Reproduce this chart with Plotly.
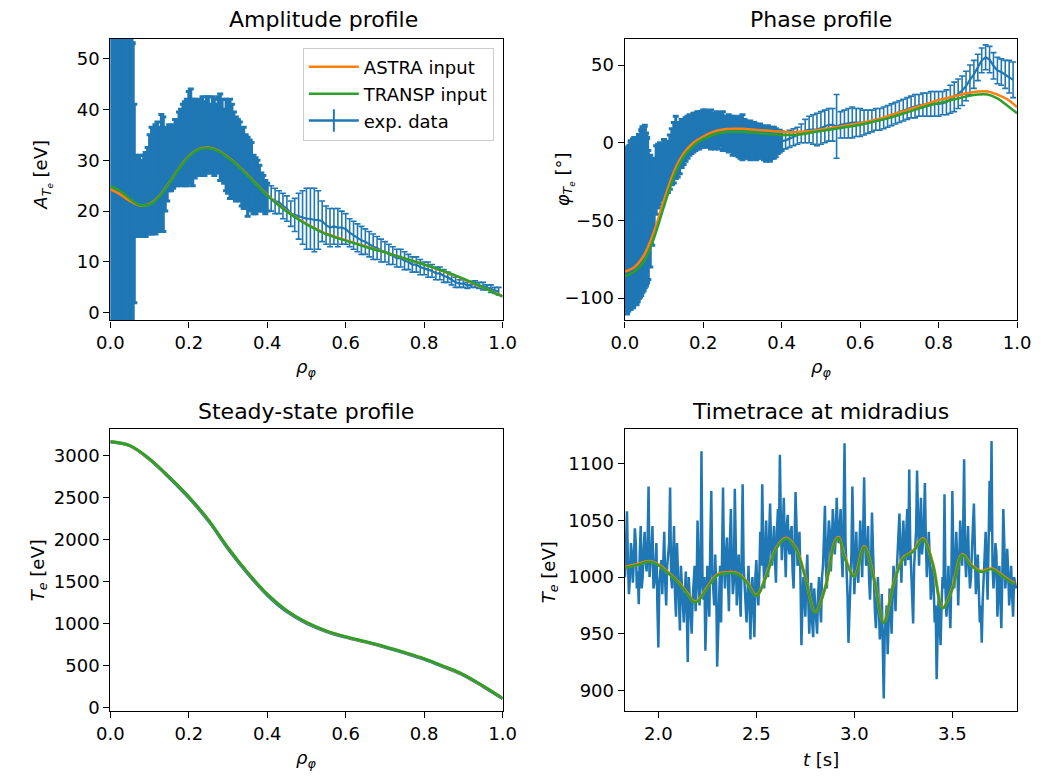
import numpy as np
import plotly.graph_objects as go

FONT = "DejaVu Sans"
BLUE, ORANGE, GREEN = "#1f77b4", "#ff7f0e", "#2ca02c"

amp_rho_core = [round(0.003 * k, 3) for k in range(1, 20)]          # 0.003 .. 0.057
amp_hi_core = [62, 70, 58, 75, 66, 60, 72, 64, 80, 68, 61, 74, 66, 70, 59, 65, 71, 60, 53]
amp_lo_core = [-14, -20, -9, -25, -16, -11, -22, -15, -30, -18, -12, -24, -16, -20, -10, -15, -21, -8, -6]

amp_rho_edge = [0.061]
amp_hi_edge = [41]
amp_lo_edge = [2]

amp_rho_mid = [round(0.065 + 0.005 * k, 3) for k in range(68)]       # 0.065 .. 0.400
amp_hi_mid = [31, 30.5, 31, 30, 31, 31.5, 32.5, 35, 36.5, 36,
              37, 37.5, 36.5, 39, 38.5, 36.5, 36, 37, 36.5, 37,
              38, 37.5, 39.5, 40, 41, 41.5, 42, 43.5, 44, 42,
              42, 41.5, 42, 41.5, 42.5, 41.5, 42.5, 42.5, 41, 42.5,
              42, 41, 42.5, 43, 42, 40, 42, 41.5, 42, 41,
              39.5, 38.5, 38, 37.5, 36, 36.5, 35, 34.5, 34, 33.5,
              31, 30.5, 30, 29, 27.5, 27, 26, 25.5]
amp_lo_mid = [15, 15, 15.5, 15, 15.5, 15, 16, 15.5, 15.5, 16,
              15.5, 16, 16.5, 16, 16, 20, 22, 24, 24, 24.5,
              25, 25, 25.5, 25, 25.5, 25, 25, 26, 25.5, 25,
              26.5, 27, 27.5, 27, 27.5, 27, 28, 27.5, 27.5, 28,
              27, 28, 27.5, 26, 26.5, 25.5, 24, 23.5, 22.5, 22.5,
              23, 22, 22.5, 22, 21, 20.5, 21, 19, 20, 20.5,
              19.5, 19.5, 20, 20.5, 20, 20, 19.5, 20]

amp_rho_out = [round(0.41 + 0.01 * k, 2) for k in range(59)]          # 0.41 .. 0.99
amp_hi_out = [25, 24.5, 24, 23.5, 23, 22, 22.5, 23.5, 24, 24.5,
              24.5, 24.5, 24, 22, 21, 20.5, 20.5, 20.5, 20, 19.5,
              18.5, 18, 17.5, 17, 16.5, 16, 15.5, 15, 14.5, 14,
              13.5, 13, 12.5, 12.5, 12, 11.5, 11, 11, 10.5, 10,
              10, 9.5, 9, 9, 8.5, 8, 7.5, 7, 6.5, 6.5,
              6, 6.2, 6.3, 6, 6, 5.5, 5.5, 5, 5]
amp_lo_out = [20, 19.5, 19.5, 18.5, 18, 17, 16, 14.5, 13.5, 12.5,
              12.5, 12, 12.5, 14, 13.5, 13, 13.5, 13, 13.5, 13.5,
              13, 12.5, 12, 11.5, 11.5, 11, 10.5, 10.5, 10, 10,
              9.5, 9.5, 9, 9, 8.5, 8.5, 8, 8, 7.5, 7.5,
              7, 7, 6.5, 6.5, 6, 6, 5.5, 5, 5, 5,
              4.8, 5, 5, 4.8, 4.5, 4.5, 4, 3.8, 3.5]

# ---------------- Amplitude profile: model curves ----------------
rho_model = [round(0.025 * k, 3) for k in range(41)]
amp_astra = [24.3, 23.3, 22.0, 21.1, 21.4, 23.0, 25.6, 28.4, 30.8, 32.2,
             32.5, 31.9, 30.6, 29.0, 27.1, 25.1, 23.2, 21.5, 20.0, 18.7,
             17.5, 16.5, 15.6, 14.9, 14.3, 13.7, 13.1, 12.5, 11.9, 11.3,
             10.7, 10.1, 9.5, 8.8, 8.1, 7.4, 6.6, 5.8, 5.0, 4.1, 3.3]
amp_transp = [24.9, 24.0, 22.4, 21.2, 21.3, 22.9, 25.5, 28.3, 30.7, 32.1,
              32.4, 31.8, 30.5, 28.9, 27.0, 25.0, 23.1, 21.4, 19.9, 18.6,
              17.4, 16.4, 15.5, 14.8, 14.2, 13.6, 13.0, 12.4, 11.9, 11.3,
              10.7, 10.1, 9.5, 8.9, 8.2, 7.5, 6.7, 5.9, 5.0, 4.1, 3.2]

# ---------------- Phase profile: experimental data ----------------
ph_rho_core = [round(0.003 * k, 3) for k in range(1, 20)]
ph_hi_core = [-4, -6, -3, -2, 1, 0, 2, 3, 1, 3, 2, 5, 4, 8, 10, 9, 11, 6, 3]
ph_lo_core = [-108, -110, -108, -107, -107, -105, -106, -104, -103, -104,
              -102, -100, -99, -98, -96, -95, -93, -92, -90]

ph_rho_mid = [round(0.060 + 0.005 * k, 3) for k in range(69)]         # 0.060 .. 0.400
ph_hi_mid = [-5, -8, -11, -10, -2, -1, 0, -1, 2, 0,
             1, 5, 9, 13, 17, 12, 13, 15, 15, 16,
             17, 18, 17, 19, 19, 20, 20, 20, 21, 21,
             20, 20, 21, 19, 19, 20, 19, 18, 20, 17,
             17, 18, 17, 16, 17, 15, 16, 17, 18, 15,
             14, 13, 14, 12, 13, 12, 11, 12, 11, 10,
             10, 11, 9, 10, 10, 9, 8, 8, 7]
ph_lo_mid = [-88, -80, -66, -55, -46, -42, -40, -37, -35, -33,
             -32, -30, -27, -26, -23, -22, -20, -16, -14, -12,
             -10, -8, -7, -6, -5, -4, -4, -3, -3, -2,
             -3, -2, -4, -3, -4, -3, -4, -2, -5, -4,
             -5, -6, -5, -8, -7, -8, -9, -10, -11, -10,
             -10, -9, -11, -10, -10, -11, -10, -9, -10, -11,
             -12, -11, -12, -10, -10, -9, -7, -6, -5]

ph_rho_out = [round(0.41 + 0.01 * k, 2) for k in range(59)]
ph_hi_out = [7, 8, 9, 10, 12, 15, 17, 18, 19, 20,
             21, 22, 22, 31, 20, 21, 22, 23, 22, 22,
             21, 21, 21, 22, 22, 23, 24, 25, 26, 27,
             28, 29, 30, 31, 31, 32, 32, 33, 33, 33,
             33, 34, 37, 39, 41, 43, 46, 50, 53, 57,
             61, 63, 62, 58, 55, 54, 53, 53, 52]
ph_lo_out = [-4, -3, -2, -1, 0, 0, 0, -1, -2, -1,
             0, 1, 1, -10, 3, 3, 3, 3, 4, 4,
             5, 6, 7, 8, 8, 9, 10, 11, 12, 13,
             14, 15, 16, 16, 17, 17, 17, 17, 17, 17,
             18, 18, 19, 20, 22, 24, 27, 31, 35, 40,
             45, 47, 45, 41, 38, 37, 35, 32, 29]

ph_astra = [-83, -80, -72, -57, -37, -19, -7, 0, 4, 7,
            8.5, 9, 9, 8.5, 8, 7.5, 7, 6.8, 7, 7.5,
            8.5, 9.5, 10.5, 11.5, 12.5, 14, 15.5, 17.5, 19.5, 21.5,
            23.5, 25.5, 27.5, 29, 30.5, 32, 33, 33, 31, 28, 23]
ph_transp = [-86, -83, -76, -61, -41, -22, -9, -2, 2.5, 5,
             6.5, 7, 7, 6.5, 6, 5.5, 5, 5, 5.5, 6.5,
             7.5, 8.5, 9.5, 10.5, 11.5, 13, 14.5, 16, 18, 20,
             22, 24, 25.5, 27, 28.5, 30, 31, 31, 28.5, 24, 19]

# ---------------- Steady-state profile ----------------
rho_ss = [round(0.05 * k, 2) for k in range(21)]
te_exp = [3165, 3118, 2955, 2737, 2497, 2222, 1890, 1595, 1337, 1140, 1003,
          906, 836, 780, 718, 648, 573, 481, 383, 249, 104]
te_astra = [3170, 3122, 2963, 2748, 2510, 2235, 1903, 1608, 1350, 1153, 1014,
            914, 844, 787, 725, 656, 582, 491, 392, 257, 110]
te_transp = [3172, 3124, 2966, 2751, 2513, 2239, 1906, 1611, 1353, 1156, 1016,
             916, 846, 789, 727, 658, 584, 493, 395, 261, 112]

# ---------------- Timetrace at midradius ----------------
# samples at t = 1.830, 1.840, ... 3.820
te_trace_a = [1000, 1058, 985, 1030, 995, 1043, 990, 976, 1045, 1000,
              1040, 1005, 1080, 1010, 1045, 995, 1030, 938, 1010, 985,
              1040, 975, 1020, 1079, 990, 1045, 965, 1000, 953, 990,
              960, 1005, 925, 985, 950, 995, 970, 1050, 975, 1111,
              980, 935, 1010, 965, 1076, 985, 1020, 921, 1000, 960,
              1079, 990, 1035, 970, 1060, 985, 1078, 975, 1020, 965,
              1082, 990, 960, 1010, 945, 1000, 947, 1015, 975, 1040,
              1082, 990, 1050, 1000, 1065, 1010, 1045, 995, 1060, 1108,
              1015, 1070, 1000, 1055, 1020, 1045, 990, 1075, 1010, 1040,
              940, 1000, 965, 1020, 950, 995, 947, 975, 950, 1000,
              960, 1010, 1063, 990, 1050, 1005, 1060, 1020, 1070, 1030,
              1060, 1000, 1118, 1010, 942, 1000, 1080, 985, 1040, 995,
              1050, 1000, 1088, 1010, 1045, 980, 1057, 990, 955, 1000,
              945, 985, 893, 960, 932, 990, 950, 1010, 970, 1020,
              1056, 995, 1050, 1010, 1060, 1095, 1000, 959, 1030, 1094,
              1010, 1070, 1030, 1083, 1000, 1040, 980, 1010, 960, 910,
              985, 940, 1000, 1073, 965, 1010, 955, 1076, 990, 1040,
              975, 1050, 1010, 1104, 1000, 1045, 990, 1030, 1065, 985,
              1020, 960, 942, 1000, 1040, 980, 1085, 1120, 990, 1030,
              965, 1010, 955, 1060, 990, 1025, 975, 1010, 965, 995]
# samples at t = 1.835, 1.845, ... 3.825
te_trace_b = [1025, 1010, 1000, 1020, 1015, 1030, 1005, 1020, 990, 1025,
              1015, 1030, 1000, 1025, 990, 1010, 975, 995, 1015, 1005,
              995, 1010, 1030, 1000, 1020, 985, 1030, 975, 1010, 975,
              985, 970, 1000, 960, 980, 1010, 990, 1020, 995, 1000,
              1000, 970, 990, 1030, 1005, 975, 995, 960, 1010, 1030,
              1010, 1020, 1000, 1030, 1015, 995, 1030, 1000, 985, 1020,
              1010, 970, 985, 975, 990, 970, 1000, 990, 1000, 1010,
              1030, 1020, 1010, 1035, 1030, 1025, 1015, 1040, 1030, 1050,
              1040, 1030, 1045, 1025, 1040, 1005, 1030, 1045, 1020, 1000,
              975, 985, 1000, 980, 975, 960, 990, 965, 985, 975,
              1000, 1035, 1010, 1030, 1040, 1025, 1045, 1035, 1040, 1045,
              1020, 1050, 1030, 985, 975, 1020, 1030, 1010, 1005, 1020,
              1025, 1040, 1030, 1020, 1000, 1010, 1025, 970, 980, 975,
              960, 940, 950, 975, 960, 975, 985, 995, 1000, 1035,
              1020, 1030, 1025, 1040, 1015, 1030, 990, 1010, 1040, 1030,
              1045, 1020, 1050, 1030, 1020, 1015, 995, 990, 975, 950,
              960, 975, 990, 990, 985, 975, 1000, 1020, 1010, 1015,
              1010, 1030, 1040, 1020, 1025, 1010, 1000, 1045, 1020, 1000,
              990, 975, 980, 1015, 1010, 1030, 1040, 1010, 1005, 1020,
              990, 980, 1000, 1030, 1000, 1005, 990, 985, 1000, 990]
te_trace = [v for pair in zip(te_trace_a, te_trace_b) for v in pair]
t_trace = [round(1.83 + 0.005 * k, 3) for k in range(len(te_trace))]

t_fit = [1.83, 1.85, 1.90, 1.95, 2.00, 2.05, 2.10, 2.15, 2.18, 2.20, 2.25, 2.30,
         2.35, 2.40, 2.45, 2.50, 2.55, 2.60, 2.65, 2.70, 2.75, 2.80, 2.85, 2.90,
         2.92, 2.95, 3.00, 3.05, 3.10, 3.15, 3.20, 3.25, 3.30, 3.35, 3.40, 3.45,
         3.50, 3.55, 3.60, 3.65, 3.70, 3.75, 3.80, 3.82]
te_fit_astra = [1008.5, 1009.5, 1011.5, 1014, 1011, 1004, 996, 985, 978.5, 979, 991, 1002,
                1004, 1003.5, 996, 984, 1001, 1025, 1034.5, 1026, 1000, 969, 990, 1031,
                1035, 1018, 1001, 1027, 999, 960, 994, 1017, 1023, 1034, 1012, 973,
                990, 1020, 1010, 1005, 1007.5, 1002, 996, 994.5]
te_fit_transp = [1008, 1009, 1011, 1013.5, 1010.5, 1003.5, 995.5, 984.5, 978, 978.5, 990.5, 1001.5,
                 1003.5, 1003, 995.5, 983.5, 1000.5, 1024.5, 1034, 1025.5, 999.5, 968.5, 989.5, 1030.5,
                 1034.5, 1017.5, 1000.5, 1026.5, 998.5, 959.5, 993.5, 1016.5, 1022.5, 1033.5, 1011.5, 972.5,
                 989.5, 1019.5, 1009.5, 1004.5, 1007, 1001.5, 995.5, 994]


def mean_err(hi, lo):
    hi = np.asarray(hi, float)
    lo = np.asarray(lo, float)
    return (hi + lo) / 2, (hi - lo) / 2


fig = go.Figure()


def bars(x, hi, lo, xa, ya, thick):
    m, e = mean_err(hi, lo)
    return go.Scatter(x=x, y=m, mode="markers", marker=dict(size=0.1, opacity=0, color=BLUE),
                      error_y=dict(type="data", array=e, symmetric=True, color=BLUE,
                                   thickness=thick, width=3),
                      xaxis=xa, yaxis=ya, showlegend=False, hoverinfo="skip")


def meanline(x, hi, lo, xa, ya):
    m, _ = mean_err(hi, lo)
    return go.Scatter(x=x, y=m, mode="lines", line=dict(color=BLUE, width=2.2),
                      xaxis=xa, yaxis=ya, showlegend=False, hoverinfo="skip")


def line(x, y, color, xa, ya, width=2.5, name=None, show=False, rank=None, group=None):
    return go.Scatter(x=x, y=y, mode="lines", line=dict(color=color, width=width, shape="spline"),
                      xaxis=xa, yaxis=ya, name=name, showlegend=show, legendrank=rank,
                      legendgroup=group)


# Amplitude
fig.add_trace(bars(amp_rho_core, amp_hi_core, amp_lo_core, "x", "y", 4))
fig.add_trace(bars(amp_rho_edge + amp_rho_mid, amp_hi_edge + amp_hi_mid, amp_lo_edge + amp_lo_mid, "x", "y", 3))
fig.add_trace(bars(amp_rho_out, amp_hi_out, amp_lo_out, "x", "y", 1.6))
fig.add_trace(meanline(amp_rho_core + amp_rho_edge + amp_rho_mid + amp_rho_out,
                       amp_hi_core + amp_hi_edge + amp_hi_mid + amp_hi_out,
                       amp_lo_core + amp_lo_edge + amp_lo_mid + amp_lo_out, "x", "y"))
fig.add_trace(line(rho_model, amp_astra, ORANGE, "x", "y", name="ASTRA input", show=True, rank=1, group="a"))
fig.add_trace(line(rho_model, amp_transp, GREEN, "x", "y", name="TRANSP input", show=True, rank=2, group="b"))
fig.add_trace(go.Scatter(x=[None], y=[None], mode="lines+markers", name="exp. data",
                         line=dict(color=BLUE, width=2.5),
                         marker=dict(symbol="line-ns-open", size=16, color=BLUE,
                                     line=dict(color=BLUE, width=2)),
                         xaxis="x", yaxis="y", showlegend=True, legendrank=3, legendgroup="c"))

# Phase
fig.add_trace(bars(ph_rho_core, ph_hi_core, ph_lo_core, "x2", "y2", 4))
fig.add_trace(bars(ph_rho_mid, ph_hi_mid, ph_lo_mid, "x2", "y2", 3))
fig.add_trace(bars(ph_rho_out, ph_hi_out, ph_lo_out, "x2", "y2", 1.6))
fig.add_trace(meanline(ph_rho_core + ph_rho_mid + ph_rho_out, ph_hi_core + ph_hi_mid + ph_hi_out,
                       ph_lo_core + ph_lo_mid + ph_lo_out, "x2", "y2"))
fig.add_trace(line(rho_model, ph_astra, ORANGE, "x2", "y2"))
fig.add_trace(line(rho_model, ph_transp, GREEN, "x2", "y2"))

# Steady state
fig.add_trace(line(rho_ss, te_exp, BLUE, "x3", "y3", width=2.8))
fig.add_trace(line(rho_ss, te_astra, ORANGE, "x3", "y3", width=2.8))
fig.add_trace(line(rho_ss, te_transp, GREEN, "x3", "y3", width=2.8))

# Timetrace
fig.add_trace(go.Scatter(x=t_trace, y=te_trace, mode="lines", line=dict(color=BLUE, width=2.5),
                         xaxis="x4", yaxis="y4", showlegend=False))
fig.add_trace(line(t_fit, te_fit_astra, ORANGE, "x4", "y4", width=3.2))
fig.add_trace(line(t_fit, te_fit_transp, GREEN, "x4", "y4", width=2.4))

W, H = 1050, 777
XL = [99 / W, 502 / W]
XR = [627.5 / W, 1030.5 / W]
YT = [1 - 323.3 / H, 1 - 39 / H]
YB = [1 - 717.3 / H, 1 - 433 / H]


def ax(domain, rng, anchor, **kw):
    d = dict(domain=domain, range=rng, anchor=anchor, showline=True, linecolor="black",
             linewidth=1.3, mirror=True, ticks="outside", ticklen=6, tickwidth=1.3,
             tickcolor="black", showgrid=False, zeroline=False,
             tickfont=dict(size=18, color="black", family=FONT))
    d.update(kw)
    return d


xt = dict(tickmode="linear", tick0=0, dtick=0.2, tickformat=".1f")

fig.update_layout(
    width=W, height=H, margin=dict(l=0, r=0, t=0, b=0),
    paper_bgcolor="white", plot_bgcolor="white",
    font=dict(family=FONT, color="black"),
    xaxis=ax(XL, [0, 1], "y", **xt),
    yaxis=ax(YT, [-1.48, 53.9], "x", tickmode="linear", tick0=0, dtick=10),
    xaxis2=ax(XR, [0, 1], "y2", **xt),
    yaxis2=ax(YT, [-114.4, 67.0], "x2", tickmode="linear", tick0=0, dtick=50),
    xaxis3=ax(XL, [0, 1], "y3", **xt),
    yaxis3=ax(YB, [-39, 3320], "x3", tickmode="linear", tick0=0, dtick=500),
    xaxis4=ax(XR, [1.8286, 3.830], "y4", tickmode="linear", tick0=2.0, dtick=0.5, tickformat=".1f"),
    yaxis4=ax(YB, [882, 1130.6], "x4", tickmode="linear", tick0=900, dtick=50),
    legend=dict(x=493 / W, y=1 - 48 / H, xanchor="right", yanchor="top",
                bgcolor="rgba(255,255,255,0.8)", bordercolor="#cccccc", borderwidth=1,
                font=dict(size=18, family=FONT, color="black"), tracegroupgap=0.5,
                itemwidth=50),
    showlegend=True,
)

# subplot titles
titles = [("Amplitude profile", 318, 39, 4.5),
          ("Phase profile", 829, 39, 4.5),
          ("Steady-state profile", 300.5, 433, 3.5),
          ("Timetrace at midradius", 829, 433, 3.5)]
for txt, x, y, ys in titles:
    fig.add_annotation(text=txt, x=x / W, y=1 - y / H, xref="paper", yref="paper", xanchor="center",
                       yanchor="bottom", yshift=ys, showarrow=False,
                       font=dict(size=22, family=FONT, color="black"))

# axis labels
rho_lbl = "<i>ρ</i><sub><i>φ</i></sub>"
te_lbl = "<i>T</i><sub><i>e</i></sub> [eV]"
axis_labels = [
    (rho_lbl, 300.5, 371, 0), (rho_lbl, 829, 371, 0),
    (rho_lbl, 300.5, 766, 0), ("<i>t</i> [s]", 829, 766, 0),
    ("<i>A</i><sub><i>T</i><sub><i>e</i></sub></sub> [eV]", 29, 176, -90),
    ("<i>φ</i><sub><i>T</i><sub><i>e</i></sub></sub> [°]", 565, 181, -90),
    (te_lbl, 25, 575, -90), (te_lbl, 550, 577, -90),
]
for txt, x, y, ang in axis_labels:
    fig.add_annotation(text=txt, x=x / W, y=1 - y / H, xref="paper", yref="paper",
                       xanchor="center", yanchor="middle", textangle=ang, showarrow=False,
                       font=dict(size=18, family=FONT, color="black"))

fig.write_html("out.html")
